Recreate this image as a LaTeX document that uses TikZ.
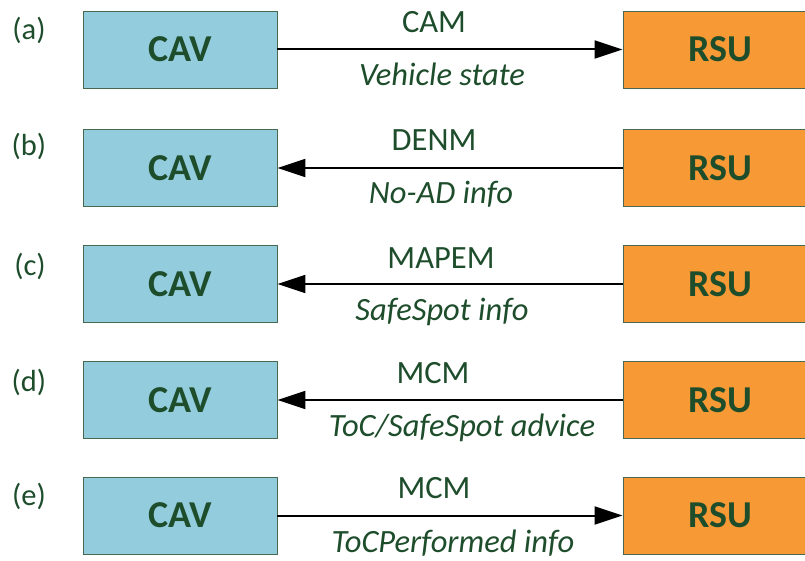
\documentclass[tikz,border=0pt]{standalone}
\usepackage{fontspec}
\setmainfont{Carlito}
\usetikzlibrary{arrows.meta}
\definecolor{cavfill}{RGB}{147,205,221}
\definecolor{rsufill}{RGB}{247,154,53}
\definecolor{txtgreen}{RGB}{30,77,44}
\definecolor{boxline}{RGB}{70,105,80}
\tikzset{
  cavbox/.style={draw=boxline, line width=0.9pt, fill=cavfill, minimum width=194pt, minimum height=77pt, inner sep=0pt, text=txtgreen, font=\fontsize{38}{42}\selectfont\bfseries},
  rsubox/.style={cavbox, fill=rsufill},
  msg/.style={draw=black, line width=2pt, -{Triangle[length=28pt,width=18pt]}},
  toplbl/.style={anchor=base, inner sep=0pt, text=txtgreen, font=\fontsize{32.5}{36}\selectfont},
  botlbl/.style={toplbl, font=\fontsize{32.5}{36}\selectfont\itshape},
  rowlbl/.style={anchor=base, inner sep=0pt, text=txtgreen, font=\fontsize{30.5}{34}\selectfont},
}
\begin{document}
\begin{tikzpicture}[x=1pt,y=-1pt]
\useasboundingbox (0,0) rectangle (805,561);
\clip (0,0) rectangle (805,561);
% row a
\node[rowlbl] (la) at (29,40) {(a)};
\node[cavbox] (cavA) at (180,49.5) {CAV};
\node[rsubox] (rsuA) at (720,49.5) {RSU};
\draw[msg] (cavA) -- (rsuA);
\node[toplbl] (tA) at (434,33) {CAM};
\node[botlbl] (bA) at (442,86) {Vehicle state};
% row b
\node[rowlbl] (lb) at (29,156) {(b)};
\node[cavbox] (cavB) at (180,168) {CAV};
\node[rsubox] (rsuB) at (720,168) {RSU};
\draw[msg] (rsuB) -- (cavB);
\node[toplbl] (tB) at (434,151) {DENM};
\node[botlbl] (bB) at (441,204) {No-AD info};
% row c
\node[rowlbl] (lc) at (30,275) {(c)};
\node[cavbox] (cavC) at (180,284) {CAV};
\node[rsubox] (rsuC) at (720,284) {RSU};
\draw[msg] (rsuC) -- (cavC);
\node[toplbl] (tC) at (441,268) {MAPEM};
\node[botlbl] (bC) at (442,320) {SafeSpot info};
% row d
\node[rowlbl] (ld) at (29,391) {(d)};
\node[cavbox] (cavD) at (180,400) {CAV};
\node[rsubox] (rsuD) at (720,400) {RSU};
\draw[msg] (rsuD) -- (cavD);
\node[toplbl] (tD) at (433,383) {MCM};
\node[botlbl] (bD) at (462,436) {ToC/SafeSpot advice};
% row e
\node[rowlbl] (le) at (29,505) {(e)};
\node[cavbox] (cavE) at (180,515.5) {CAV};
\node[rsubox] (rsuE) at (720,515.5) {RSU};
\draw[msg] (cavE) -- (rsuE);
\node[toplbl] (tE) at (434,498) {MCM};
\node[botlbl] (bE) at (453,552.5) {ToCPerformed info};
\end{tikzpicture}
\end{document}
